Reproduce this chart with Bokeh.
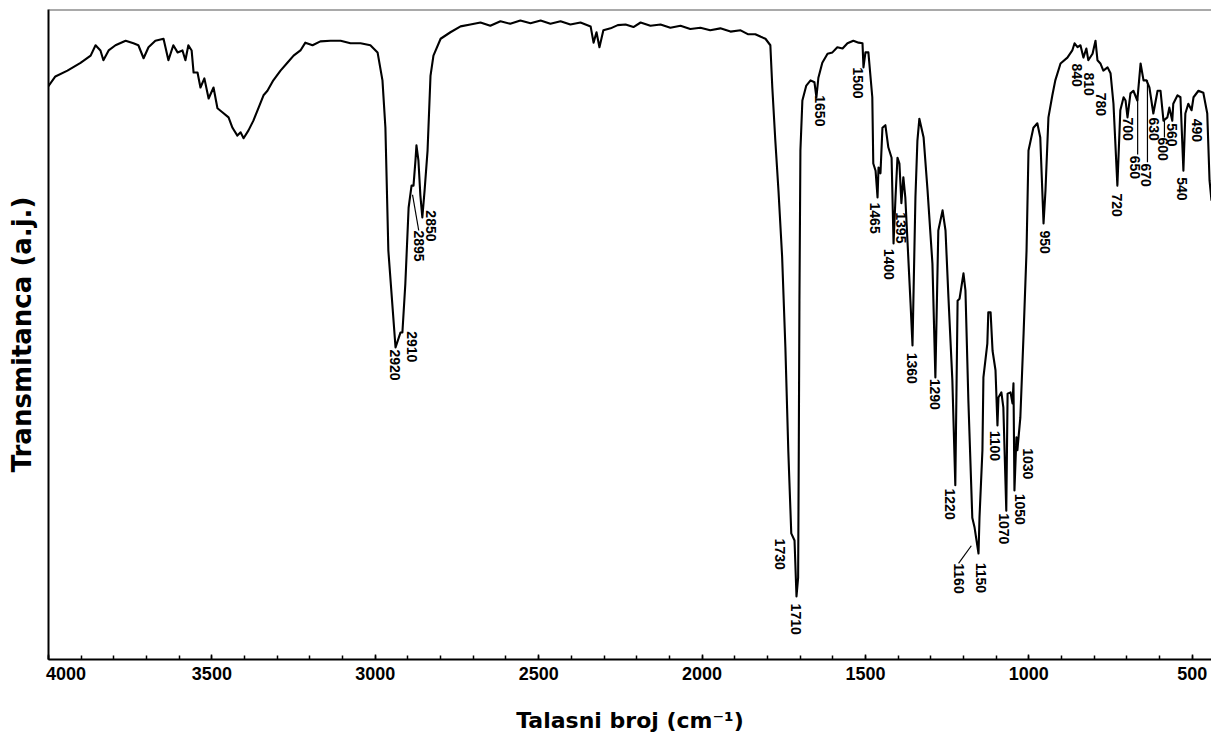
import numpy as np
from bokeh.plotting import figure
from bokeh.models import Range1d, FixedTicker, Span, ColumnDataSource
from bokeh.core.properties import value
from bokeh.embed import file_html
from bokeh.resources import INLINE

# ---- spectrum (wavenumber cm-1, transmittance a.u.) ----
wavenumber = [4003, 3979, 3942, 3902, 3871, 3856, 3841, 3832, 3816, 3795, 3764, 3740, 3725, 3709,
              3694, 3673, 3648, 3633, 3618, 3605, 3590, 3581, 3572, 3562, 3556, 3544, 3535, 3523,
              3510, 3495, 3483, 3468, 3449, 3437, 3422, 3412, 3403, 3388, 3373, 3357, 3342, 3330,
              3312, 3290, 3269, 3250, 3229, 3214, 3192, 3168, 3137, 3106, 3076, 3045, 3015, 2993,
              2978, 2969, 2960, 2938, 2923, 2917, 2908, 2898, 2889, 2883, 2877, 2874, 2868, 2862,
              2856, 2849, 2840, 2831, 2822, 2800, 2770, 2739, 2709, 2678, 2648, 2617, 2587, 2556,
              2525, 2494, 2464, 2433, 2403, 2372, 2341, 2332, 2323, 2314, 2302, 2280, 2258, 2234,
              2210, 2188, 2158, 2127, 2097, 2066, 2036, 2005, 1975, 1944, 1913, 1882, 1860, 1837,
              1820, 1806, 1791, 1785, 1776, 1766, 1755, 1745, 1736, 1727, 1717, 1711, 1706, 1704,
              1702, 1699, 1693, 1681, 1668, 1656, 1650, 1644, 1632, 1616, 1601, 1586, 1570, 1555,
              1537, 1521, 1509, 1506, 1500, 1491, 1479, 1476, 1469, 1463, 1460, 1454, 1448, 1439,
              1430, 1420, 1414, 1408, 1402, 1396, 1390, 1384, 1378, 1371, 1362, 1356, 1347, 1341,
              1335, 1322, 1310, 1295, 1286, 1277, 1264, 1255, 1246, 1234, 1225, 1218, 1212, 1200,
              1194, 1185, 1173, 1166, 1160, 1154, 1151, 1142, 1139, 1127, 1124, 1117, 1111, 1102,
              1096, 1093, 1084, 1078, 1069, 1065, 1056, 1050, 1047, 1044, 1038, 1035, 1026, 1016,
              1007, 1001, 986, 974, 965, 955, 949, 940, 928, 919, 903, 882, 867, 860,
              851, 842, 833, 824, 818, 805, 796, 790, 781, 772, 759, 750, 741, 729,
              720, 710, 704, 698, 689, 680, 668, 658, 649, 640, 631, 619, 606, 597,
              588, 576, 570, 561, 558, 545, 536, 527, 521, 512, 502, 496, 481, 466,
              454, 447, 441]
transmittance = [88.0, 89.7, 90.6, 91.8, 92.9, 94.5, 93.7, 92.2, 93.7, 94.5, 95.2, 94.8, 94.5, 92.5,
                 94.2, 95.2, 95.5, 92.2, 94.5, 93.4, 93.7, 92.2, 94.5, 93.7, 90.3, 90.3, 88.0, 89.4,
                 86.3, 88.0, 84.8, 84.2, 83.4, 81.8, 80.6, 81.1, 80.2, 81.4, 82.9, 84.9, 86.8, 87.5,
                 89.1, 90.6, 91.8, 92.9, 93.7, 94.9, 94.5, 95.1, 95.2, 95.2, 94.8, 94.8, 94.5, 93.4,
                 89.1, 81.8, 62.9, 48.0, 50.3, 50.3, 57.8, 69.5, 72.9, 72.9, 76.8, 79.1, 76.8, 71.4,
                 68.0, 72.2, 78.3, 89.8, 92.9, 95.5, 96.5, 97.4, 97.7, 98.0, 97.5, 98.2, 97.8, 98.3,
                 97.9, 98.3, 97.8, 98.2, 97.7, 98.0, 97.4, 94.9, 96.5, 94.2, 96.8, 97.1, 97.6, 97.7,
                 97.3, 98.0, 97.5, 97.7, 97.2, 97.5, 97.0, 97.2, 96.8, 97.1, 96.6, 96.8, 96.2, 96.2,
                 95.8, 95.5, 94.5, 88.0, 80.0, 72.0, 62.0, 48.0, 32.0, 19.4, 18.3, 9.7, 12.6, 32.2,
                 55.2, 78.3, 86.0, 88.3, 89.1, 88.8, 86.5, 89.5, 91.8, 93.2, 93.4, 94.2, 94.0, 94.8,
                 95.2, 94.9, 94.8, 91.1, 93.4, 93.4, 86.5, 76.3, 75.2, 71.1, 75.7, 74.8, 81.8, 82.2,
                 78.8, 77.2, 64.0, 71.1, 77.2, 76.3, 70.2, 74.2, 71.1, 64.0, 54.8, 48.3, 71.1, 79.8,
                 83.2, 80.3, 72.2, 60.9, 43.4, 66.0, 69.1, 66.0, 55.7, 42.9, 26.8, 55.2, 55.5, 59.4,
                 56.8, 39.8, 21.8, 20.3, 18.3, 16.3, 21.8, 32.2, 43.4, 48.6, 53.4, 53.4, 47.5, 44.5,
                 36.0, 40.3, 41.1, 38.8, 22.9, 40.9, 41.1, 39.4, 42.5, 26.0, 34.2, 32.2, 37.2, 50.2,
                 62.9, 78.3, 81.8, 82.5, 80.3, 67.1, 72.2, 83.4, 86.8, 89.1, 91.7, 92.6, 93.7, 94.8,
                 94.2, 94.5, 92.6, 94.0, 92.2, 93.2, 95.2, 92.2, 91.7, 90.6, 91.1, 90.2, 85.5, 72.9,
                 84.5, 86.5, 86.0, 83.4, 87.1, 87.5, 86.0, 91.7, 89.1, 89.1, 88.0, 84.0, 87.5, 87.5,
                 82.9, 83.4, 84.9, 82.9, 85.5, 86.8, 86.5, 75.2, 84.0, 85.5, 84.5, 86.5, 87.5, 87.2,
                 84.0, 73.7, 70.6]

# ---- peak annotations ----
peak_labels = ["2920", "2910", "2895", "2850", "1730", "1710", "1650", "1500", "1465", "1400",
               "1395", "1360", "1290", "1220", "1160", "1150", "1100", "1070", "1050", "1030",
               "950", "840", "810", "780", "720", "700", "670", "650", "630", "600", "560",
               "540", "490"]
peak_label_wn = [2941, 2889, 2865, 2828, 1760, 1714, 1638, 1524, 1472, 1427,
                 1390, 1359, 1286, 1240, 1215, 1145, 1105, 1075, 1026, 1004,
                 952, 854, 815, 778, 729, 695, 640, 674, 616, 588, 561,
                 530, 484]
peak_label_t = [47.7, 50.5, 66.0, 69.1, 18.6, 8.6, 86.8, 91.1, 70.3, 63.2,
                68.8, 47.2, 43.2, 26.3, 14.8, 14.9, 35.2, 22.5, 25.5, 32.5,
                66.0, 91.7, 90.3, 87.2, 71.7, 83.4, 76.3, 77.5, 83.4, 80.3, 82.5,
                74.2, 83.2]

# leader lines (from band to label)
leader_wn0 = [2886, 1176, 667, 637, 585]
leader_t0 = [71.5, 17.5, 86.3, 89.1, 82.9]
leader_wn1 = [2867, 1215, 667, 637, 585]
leader_t1 = [66.0, 14.8, 77.7, 76.5, 80.3]

major_ticks = [4000, 3500, 3000, 2500, 2000, 1500, 1000, 500]
minor_ticks = list(range(500, 4001, 100))

p = figure(width=1211, height=735, output_backend="svg", toolbar_location=None,
           x_range=Range1d(4000, 441), y_range=Range1d(0, 100),
           min_border_left=48, min_border_right=0, min_border_top=9, min_border_bottom=76)
p.outline_line_color = None
p.grid.visible = False
p.background_fill_color = "white"
p.border_fill_color = "white"

p.line(wavenumber, transmittance, line_color="black", line_width=2.1, line_join="round")
p.segment(x0=leader_wn0, y0=leader_t0, x1=leader_wn1, y1=leader_t1,
          line_color="black", line_width=1.2)

src = ColumnDataSource(dict(x=peak_label_wn, y=peak_label_t, t=peak_labels))
p.text(x="x", y="y", text="t", source=src, angle=-np.pi / 2,
       text_align="left", text_baseline="middle",
       text_font=value("Liberation Sans"), text_font_style="bold",
       text_font_size=value("14px"), text_color="black")

# x axis
xa = p.xaxis[0]
xa.ticker = FixedTicker(ticks=major_ticks, minor_ticks=minor_ticks)
xa.major_label_overrides = {4000: "\u00a0" * 7 + "4000"}
xa.major_tick_in = 5
xa.major_tick_out = 0
xa.minor_tick_in = 4
xa.minor_tick_out = 0
xa.axis_line_width = 2
xa.axis_line_color = "black"
xa.major_tick_line_width = 1.5
xa.minor_tick_line_width = 1.5
xa.major_tick_line_color = "black"
xa.minor_tick_line_color = "black"
xa.major_label_standoff = 4
xa.major_label_text_font = "Liberation Sans"
xa.major_label_text_font_size = "18px"
xa.major_label_text_font_style = "bold"
xa.major_label_text_color = "black"
xa.axis_label = "Talasni broj (cm\u207b\u00b9)"
xa.axis_label_text_font = "DejaVu Sans"
xa.axis_label_text_font_size = "22px"
xa.axis_label_text_font_style = "bold"
xa.axis_label_text_color = "black"
xa.axis_label_standoff = 21

# y axis
ya = p.yaxis[0]
ya.ticker = FixedTicker(ticks=[])
ya.major_label_text_font_size = "0px"
ya.major_label_standoff = 0
ya.major_tick_in = 0
ya.major_tick_out = 0
ya.minor_tick_in = 0
ya.minor_tick_out = 0
ya.axis_line_width = 2
ya.axis_line_color = "black"
ya.axis_label = "Transmitanca (a.j.)"
ya.axis_label_text_font = "DejaVu Sans"
ya.axis_label_text_font_size = "26px"
ya.axis_label_text_font_style = "bold"
ya.axis_label_text_color = "black"
ya.axis_label_standoff = 12

p.add_layout(Span(location=100, dimension="width", line_color="#555555", line_width=2))

open("out.html", "w").write(file_html(p, INLINE))
